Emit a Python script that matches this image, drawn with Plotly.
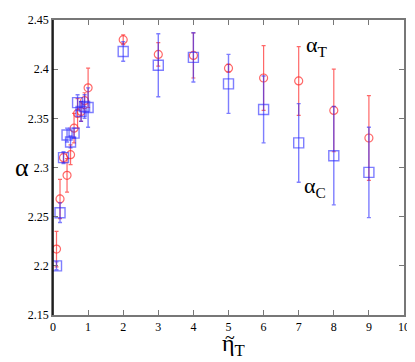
import plotly.graph_objects as go

# alpha_T (red circles)
x_t = [0.1, 0.2, 0.3, 0.4, 0.5, 0.6, 0.7, 0.8, 0.9, 1.0, 2, 3, 4, 5, 6, 7, 8, 9]
y_t = [2.217, 2.268, 2.31, 2.292, 2.313, 2.34, 2.355, 2.357, 2.368, 2.381,
       2.43, 2.415, 2.414, 2.401, 2.391, 2.388, 2.358, 2.33]
e_t = [0.018, 0.02, 0.005, 0.017, 0.01, 0.015, 0.015, 0.01, 0.008, 0.02,
       0.005, 0.012, 0.023, 0.004, 0.033, 0.035, 0.042, 0.043]

# alpha_C (blue squares)
x_c = [0.1, 0.2, 0.3, 0.4, 0.5, 0.6, 0.7, 0.8, 0.9, 1.0, 2, 3, 4, 5, 6, 7, 8, 9]
y_c = [2.2, 2.254, 2.31, 2.333, 2.326, 2.335, 2.366, 2.357, 2.362, 2.361,
       2.418, 2.404, 2.412, 2.385, 2.359, 2.325, 2.312, 2.295]
e_c = [0.004, 0.01, 0.006, 0.007, 0.006, 0.005, 0.008, 0.01, 0.012, 0.02,
       0.01, 0.032, 0.025, 0.03, 0.034, 0.04, 0.05, 0.046]

y_ticks = [2.15, 2.2, 2.25, 2.3, 2.35, 2.4, 2.45]
y_labels = ["2.15", "2.2", "2.25", "2.3", "2.35", "2.4", "2.45"]
x_ticks = list(range(0, 11))

red = "rgba(255,40,40,0.7)"
blue = "rgba(40,40,255,0.6)"

fig = go.Figure()
fig.add_trace(go.Scatter(
    x=x_t, y=y_t, mode="markers",
    marker=dict(symbol="circle-open", size=8, color=red, line=dict(width=1.2)),
    error_y=dict(type="data", array=e_t, color=red, thickness=1.2, width=2),
))
fig.add_trace(go.Scatter(
    x=x_c, y=y_c, mode="markers",
    marker=dict(symbol="square-open", size=10, color=blue, line=dict(width=1.4)),
    error_y=dict(type="data", array=e_c, color=blue, thickness=1.4, width=2),
))

serif = dict(family="Liberation Serif", color="black")
fig.add_annotation(x=7.15, y=2.424, xref="x", yref="y", xanchor="left",
                   text="α<sub>T</sub>", showarrow=False, font=dict(size=22, **serif))
fig.add_annotation(x=7.1, y=2.28, xref="x", yref="y", xanchor="left",
                   text="α<sub>C</sub>", showarrow=False, font=dict(size=22, **serif))
fig.add_annotation(x=-0.115, y=0.5, xref="paper", yref="paper",
                   text="α", showarrow=False, font=dict(size=26, **serif))
# x title: eta with a tilde drawn on top of it
fig.add_annotation(x=0.515, y=-0.1, xref="paper", yref="paper", yanchor="middle",
                   text="η<sub>T</sub>", showarrow=False, font=dict(size=24, **serif))
fig.add_annotation(x=0.503, y=-0.078, xref="paper", yref="paper", yanchor="middle",
                   text="~", showarrow=False, font=dict(size=18, **serif))

# black left axis line
fig.add_shape(type="line", xref="paper", yref="paper", x0=0, x1=0, y0=0, y1=1,
              line=dict(color="black", width=1.5))

# page has an 8px body margin, so the figure is a bit smaller than the window
fig.update_layout(
    width=407, height=354,
    margin=dict(l=45, r=11, t=5, b=47),
    paper_bgcolor="white", plot_bgcolor="white",
    showlegend=False,
    font=dict(family="Liberation Serif", size=12, color="black"),
    xaxis=dict(range=[0, 10], tickvals=x_ticks, ticks="inside", ticklen=5,
               tickcolor="#777", showline=True, linecolor="#777", linewidth=1.5,
               mirror="ticks", showgrid=False, zeroline=False),
    yaxis=dict(range=[2.15, 2.45], tickvals=y_ticks, ticktext=y_labels,
               ticks="inside", ticklen=5, tickcolor="#777", showline=True,
               linecolor="#777", linewidth=1.5, mirror="ticks",
               showgrid=False, zeroline=False),
)

fig.write_html("out.html")
